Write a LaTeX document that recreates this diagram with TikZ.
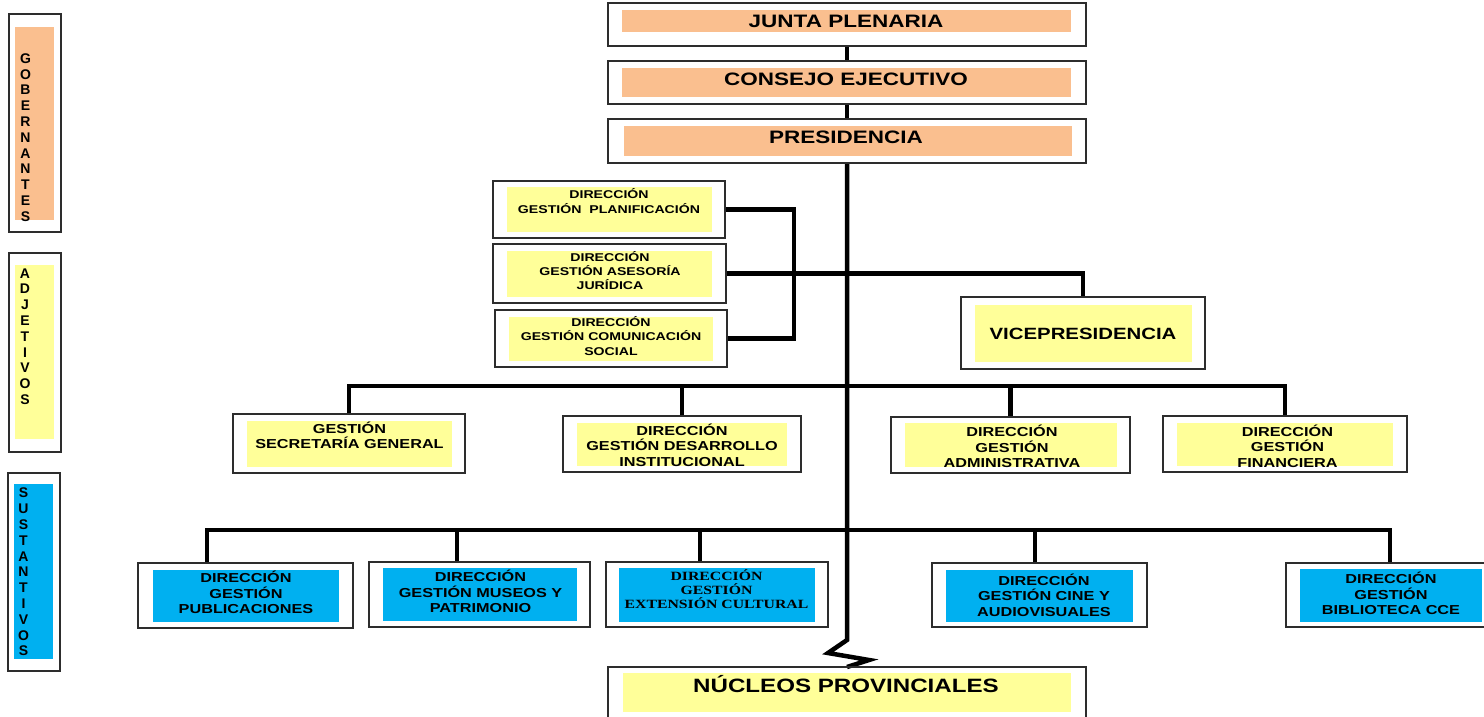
\documentclass[tikz,border=0pt]{standalone}
\usepackage{fontspec}
\usetikzlibrary{fit}
\newfontfamily\arb[FakeStretch=1.25]{Liberation Sans}
\newfontfamily\arn{Liberation Sans}
\newfontfamily\tnr[FakeStretch=1.25]{Liberation Serif}
\definecolor{peach}{RGB}{250,191,143}
\definecolor{lyel}{RGB}{255,255,153}
\definecolor{sky}{RGB}{0,176,240}
\definecolor{frame}{RGB}{45,45,45}
\tikzset{
  obox/.style={draw=frame, line width=1.8pt, fill=white, inner sep=0pt, outer sep=0pt},
  ibox/.style={inner sep=0pt, outer sep=0pt, draw=none},
  conn/.style={line width=4.5pt, black, line join=miter},
  txt/.style={inner sep=0pt, align=center, text=black},
  ftop/.style={font=\arb\bfseries\fontsize{18}{22}\selectfont},
  fvice/.style={font=\arb\bfseries\fontsize{16.3}{20}\selectfont},
  fnuc/.style={font=\arb\bfseries\fontsize{19.3}{23}\selectfont},
  fadj/.style={font=\arb\bfseries\fontsize{11.3}{14.3}\selectfont},
  flev/.style={font=\arb\bfseries\fontsize{13}{15.5}\selectfont},
  fser/.style={font=\tnr\bfseries\fontsize{12.6}{14.3}\selectfont},
  fside/.style={font=\arn\bfseries\fontsize{14}{15.8}\selectfont},
}
\begin{document}
\begin{tikzpicture}[x=1pt,y=-1pt]
\useasboundingbox[fill=white] (0,0) rectangle (1484,716);

% ---------- coordinates for connectors ----------
\coordinate (brk) at (794,0);
\coordinate (b2) at (0,386);
\coordinate (d1) at (207,530);
\coordinate (d2) at (457,530);
\coordinate (d3) at (700,530);
\coordinate (d4) at (1035,530);
\coordinate (d5) at (1390,530);
\coordinate (zz) at (847,640);

% ---------- outer boxes (nodes) ----------
\node[obox, fit={(608,3) (1086,46)}] (jp) {};
\node[obox, fit={(608,61) (1086,104)}] (cej) {};
\node[obox, fit={(608,119) (1086,163)}] (pres) {};
\node[obox, fit={(493,181) (725,238)}] (plan) {};
\node[obox, fit={(493,244) (726,303)}] (ases) {};
\node[obox, fit={(495,310) (727,367)}] (com) {};
\node[obox, fit={(961,297) (1205,369)}] (vice) {};
\node[obox, fit={(233,414) (465,473)}] (sec) {};
\node[obox, fit={(563,416) (801,472)}] (des) {};
\node[obox, fit={(891,417) (1130,473)}] (adm) {};
\node[obox, fit={(1163,416) (1407,472)}] (fin) {};
\node[obox, fit={(138,563) (353,628)}] (pub) {};
\node[obox, fit={(369,562) (590,627)}] (mus) {};
\node[obox, fit={(606,562) (828,627)}] (ext) {};
\node[obox, fit={(932,563) (1147,627)}] (cine) {};
\node[obox, fit={(1286,563) (1494,627)}] (bib) {};
\node[obox, fit={(608,667) (1086,724)}] (nuc) {};
\node[obox, fit={(9,14) (61,232)}] (gob) {};
\node[obox, fit={(9,253) (61,452)}] (adjl) {};
\node[obox, fit={(8,473) (60,671)}] (susl) {};

% ---------- connectors ----------
\draw[conn] (jp.south) -- (cej.north);
\draw[conn] (cej.south) -- (pres.north);
\draw[conn] (pres.south) -- (zz) -- (828,653) -- (869,660) -- (nuc.north);
\draw[conn] (plan.east) -- (plan.east -| brk) -- (com.east -| brk) -- (com.east);
\draw[conn] (ases.east) -| (vice.north);
\draw[conn] (sec.north) -- (sec.north |- b2) -- (fin.north |- b2) -- (fin.north);
\draw[conn] (des.north) -- (des.north |- b2);
\draw[conn] (adm.north) -- (adm.north |- b2);
\draw[conn] (d1 |- pub.north) -- (d1) -- (d5) -- (d5 |- bib.north);
\draw[conn] (d2) -- (d2 |- mus.north);
\draw[conn] (d3) -- (d3 |- ext.north);
\draw[conn] (d4) -- (d4 |- cine.north);

% redraw box frames over connector ends
\foreach \n in {jp,cej,pres,plan,ases,com,vice,sec,des,adm,fin,pub,mus,ext,cine,bib,nuc}
  \draw[frame, line width=1.8pt] (\n.north west) rectangle (\n.south east);

% ---------- inner coloured fields ----------
\node[ibox, fill=peach, fit={(622,10) (1071,32)}] (jp-in) {};
\node[ibox, fill=peach, fit={(622,68) (1071,97)}] (cej-in) {};
\node[ibox, fill=peach, fit={(624,126) (1072,156)}] (pres-in) {};
\node[ibox, fill=lyel, fit={(507,187) (712,232)}] (plan-in) {};
\node[ibox, fill=lyel, fit={(507,251) (712,297)}] (ases-in) {};
\node[ibox, fill=lyel, fit={(509,317) (713,361)}] (com-in) {};
\node[ibox, fill=lyel, fit={(975,305) (1192,362)}] (vice-in) {};
\node[ibox, fill=lyel, fit={(247,421) (452,467)}] (sec-in) {};
\node[ibox, fill=lyel, fit={(577,423) (787,466)}] (des-in) {};
\node[ibox, fill=lyel, fit={(905,423) (1117,467)}] (adm-in) {};
\node[ibox, fill=lyel, fit={(1177,423) (1393,466)}] (fin-in) {};
\node[ibox, fill=sky, fit={(153,570) (339,622)}] (pub-in) {};
\node[ibox, fill=sky, fit={(383,568) (577,621)}] (mus-in) {};
\node[ibox, fill=sky, fit={(619,568) (815,622)}] (ext-in) {};
\node[ibox, fill=sky, fit={(946,570) (1133,622)}] (cine-in) {};
\node[ibox, fill=sky, fit={(1300,569) (1482,622)}] (bib-in) {};
\node[ibox, fill=lyel, fit={(623,673) (1071,712)}] (nuc-in) {};
\node[ibox, fill=peach, fit={(15,27) (54,220)}] (gob-in) {};
\node[ibox, fill=lyel, fit={(15,265) (54,439)}] (adjl-in) {};
\node[ibox, fill=sky, fit={(14,484) (53,659)}] (susl-in) {};

% ---------- texts ----------
\node[txt, ftop] (jp-t) at (846,21) {JUNTA PLENARIA};
\node[txt, ftop] (cej-t) at (846,79) {CONSEJO EJECUTIVO};
\node[txt, ftop] (pres-t) at (846,137) {PRESIDENCIA};
\node[txt, fadj] (plan-t) at (609,201) {DIRECCIÓN\\GESTIÓN\ \ PLANIFICACIÓN};
\node[txt, fadj] (ases-t) at (610,270.5) {DIRECCIÓN\\GESTIÓN ASESORÍA\\JURÍDICA};
\node[txt, fadj] (com-t) at (611,336) {DIRECCIÓN\\GESTIÓN COMUNICACIÓN\\SOCIAL};
\node[txt, fvice] (vice-t) at (1083,334) {VICEPRESIDENCIA};
\node[txt, flev] (sec-t) at (349.5,435.5) {GESTIÓN\\SECRETARÍA GENERAL};
\node[txt, flev] (des-t) at (682,445) {DIRECCIÓN\\GESTIÓN DESARROLLO\\INSTITUCIONAL};
\node[txt, flev] (adm-t) at (1012,446.5) {DIRECCIÓN\\GESTIÓN\\ADMINISTRATIVA};
\node[txt, flev] (fin-t) at (1287.5,446) {DIRECCIÓN\\GESTIÓN\\FINANCIERA};
\node[txt, flev] (pub-t) at (246,592.5) {DIRECCIÓN\\GESTIÓN\\PUBLICACIONES};
\node[txt, flev] (mus-t) at (480.5,591.5) {DIRECCIÓN\\GESTIÓN MUSEOS Y\\PATRIMONIO};
\node[txt, fser] (ext-t) at (716.5,589) {DIRECCIÓN\\GESTIÓN\\EXTENSIÓN CULTURAL};
\node[txt, flev] (cine-t) at (1044,595) {DIRECCIÓN\\GESTIÓN CINE Y\\AUDIOVISUALES};
\node[txt, flev] (bib-t) at (1391,593.5) {DIRECCIÓN\\GESTIÓN\\BIBLIOTECA CCE};
\node[txt, fnuc] (nuc-t) at (846,684) {NÚCLEOS PROVINCIALES};
\node[txt, fside] (gob-t) at (25.5,137.5) {G\\O\\B\\E\\R\\N\\A\\N\\T\\E\\S};
\node[txt, fside] (adjl-t) at (25,336.5) {A\\D\\J\\E\\T\\I\\V\\O\\S};
\node[txt, fside] (susl-t) at (23.5,572) {S\\U\\S\\T\\A\\N\\T\\I\\V\\O\\S};
\end{tikzpicture}
\end{document}
